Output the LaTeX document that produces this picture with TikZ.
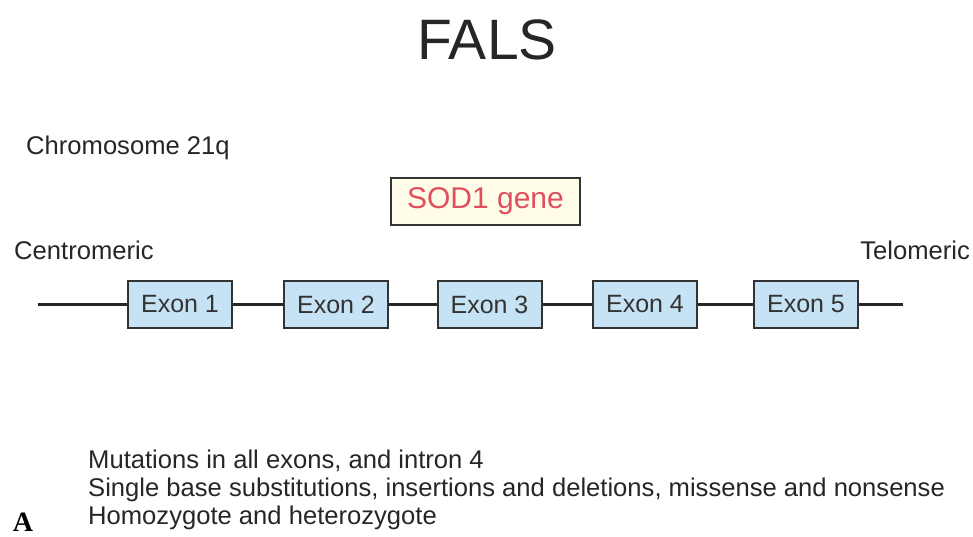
\documentclass[tikz,border=0pt]{standalone}
\usepackage{fontspec}
\setmainfont{Liberation Sans}
\newfontfamily\serifA{Liberation Serif}
\begin{document}
\begin{tikzpicture}[x=1pt,y=-1pt,
  txt/.style={inner sep=0pt, text=black!85, font=\fontsize{25.6}{30}\selectfont},
  exonbox/.style={draw=black!80, line width=2pt, fill=exonblue, minimum width=104pt, minimum height=47pt, inner sep=0pt, text=black!80, font=\fontsize{25}{29}\selectfont},
  genebox/.style={draw=black!80, line width=2.2pt, fill=genecream, minimum width=189pt, minimum height=47pt, inner sep=0pt, text=genered, font=\fontsize{30}{34}\selectfont},
  chrline/.style={line width=2.4pt, draw=black!85}]
\definecolor{exonblue}{HTML}{C6E2F5}
\definecolor{genecream}{HTML}{FFFDE8}
\definecolor{genered}{HTML}{E0505C}
\useasboundingbox (0,0) rectangle (973,536);
\node[txt, font=\fontsize{57}{62}\selectfont] (title) at (487,40) {FALS};
\node[txt, anchor=west] (chrom) at (26,148) {Chromosome 21q};
\node[genebox] (sod) at (485.5,201.5) {SOD1 gene};
\node[txt, anchor=west] (cen) at (14,250) {Centromeric};
\node[txt, anchor=east] (tel) at (970,250) {Telomeric};
\coordinate (L) at (38,304.5);
\coordinate (R) at (903,304.5);
\node[exonbox] (e1) at (180,304.5) {Exon 1};
\node[exonbox] (e2) at (336,304.5) {Exon 2};
\node[exonbox] (e3) at (489.5,304.5) {Exon 3};
\node[exonbox] (e4) at (645,304.5) {Exon 4};
\node[exonbox] (e5) at (806,304.5) {Exon 5};
\draw[chrline] (L) -- (e1.west);
\draw[chrline] (e1.east) -- (e2.west);
\draw[chrline] (e2.east) -- (e3.west);
\draw[chrline] (e3.east) -- (e4.west);
\draw[chrline] (e4.east) -- (e5.west);
\draw[chrline] (e5.east) -- (R);
\node[txt, anchor=west] (m1) at (88,461) {Mutations in all exons, and intron 4};
\node[txt, anchor=west] (m2) at (88,490) {Single base substitutions, insertions and deletions, missense and nonsense};
\node[txt, anchor=west] (m3) at (88,518) {Homozygote and heterozygote};
\node[inner sep=0pt, text=black, font=\serifA\bfseries\fontsize{28}{30}\selectfont] (A) at (23,522) {A};
\end{tikzpicture}
\end{document}
